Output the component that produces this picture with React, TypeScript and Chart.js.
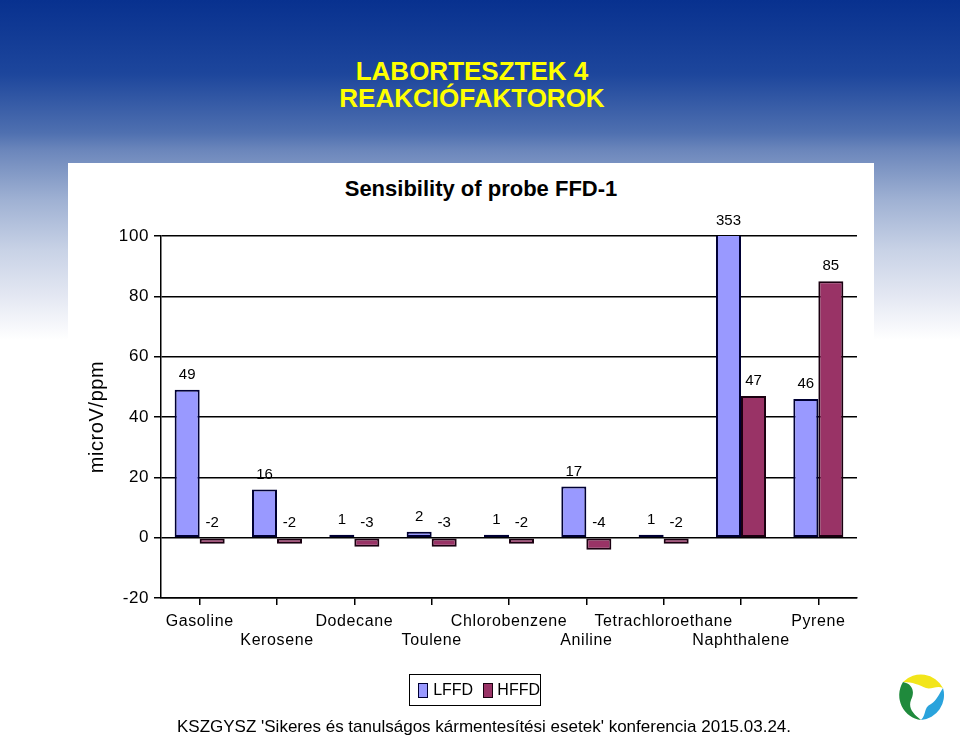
import React, { useEffect, useRef } from 'react';
import { Chart, registerables } from 'chart.js';

Chart.register(...registerables);

const categories = ['Gasoline', 'Kerosene', 'Dodecane', 'Toulene', 'Chlorobenzene', 'Aniline', 'Tetrachloroethane', 'Naphthalene', 'Pyrene'];
const lffdValues = [49, 16, 1, 2, 1, 17, 1, 353, 46];
const hffdValues = [-2, -2, -3, -3, -2, -4, -2, 47, 85];
const yMin = -20;
const yMax = 100;
const yStep = 20;

const FONT = '"Liberation Sans", Arial, sans-serif';

const spacing = {
  id: 'spacing',
  beforeDraw(chart: any) {
    chart.ctx.letterSpacing = '0.6px';
  },
  beforeDatasetsDraw(chart: any) {
    chart.ctx.letterSpacing = '0px';
  },
};

const valueLabels = {
  id: 'valueLabels',
  afterDatasetsDraw(chart: any) {
    const { ctx } = chart;
    const y = chart.scales.y;
    ctx.save();
    ctx.letterSpacing = '0px';
    ctx.font = '15px ' + FONT;
    ctx.fillStyle = '#000';
    ctx.textAlign = 'center';
    ctx.textBaseline = 'middle';
    chart.data.datasets.forEach((ds: any, di: number) => {
      const meta = chart.getDatasetMeta(di);
      meta.data.forEach((el: any, i: number) => {
        const v = ds.data[i];
        const base = v >= 0 ? y.getPixelForValue(Math.min(v, y.max)) : y.getPixelForValue(0);
        ctx.fillText(String(v), el.x, base - 15);
      });
    });
    ctx.restore();
  },
};

function Logo() {
  return (
    <svg width="54" height="54" viewBox="0 0 54 54" style={{ position: 'absolute', left: 893, top: 668 }}>
      <circle cx="27" cy="27" r="25" fill="#ffffff" />
      <path d="M10 14 A25 25 0 0 1 50 20 C44 17 38 22 33 20 C26 17 20 14 10 14 Z" fill="#f2e51a" />
      <path d="M10 14 C20 16 22 24 18 32 C15 40 20 46 28 52 A25 25 0 0 1 10 14 Z" fill="#1f8a3c" />
      <path d="M50 20 A25 25 0 0 1 28 52 C34 46 30 40 38 36 C44 32 46 26 50 20 Z" fill="#2aa3dc" />
    </svg>
  );
}

export default function App() {
  const canvasRef = useRef<HTMLCanvasElement | null>(null);

  useEffect(() => {
    const canvas = canvasRef.current;
    if (!canvas) return;
    const chart = new Chart(canvas, {
      type: 'bar',
      data: {
        labels: categories,
        datasets: [
          {
            label: 'LFFD',
            data: lffdValues,
            backgroundColor: '#9999ff',
            borderColor: '#000033',
            borderWidth: 2,
            borderSkipped: false,
            categoryPercentage: 0.647,
            barPercentage: 1,
          },
          {
            label: 'HFFD',
            data: hffdValues,
            backgroundColor: '#993366',
            borderColor: '#1a0010',
            borderWidth: 2,
            borderSkipped: false,
            categoryPercentage: 0.647,
            barPercentage: 1,
          },
        ],
      },
      options: {
        responsive: false,
        animation: false,
        devicePixelRatio: 1,
        layout: { padding: { left: 85, right: 103, top: 236, bottom: 79 } },
        plugins: {
          legend: { display: false },
          title: { display: false },
          tooltip: { enabled: false },
        },
        scales: {
          x: {
            offset: true,
            grid: {
              display: true,
              drawOnChartArea: false,
              drawTicks: true,
              tickLength: 7,
              offset: false,
              color: '#000',
              lineWidth: 1.5,
            },
            border: { display: true, color: '#000', width: 1.5 },
            ticks: {
              color: '#000',
              font: { family: FONT, size: 16 },
              padding: 7,
              autoSkip: false,
              maxRotation: 0,
              minRotation: 0,
              callback: (_v: any, i: number) => (i % 2 === 0 ? [categories[i]] : ['', categories[i]]),
            },
            afterFit: (scale: any) => {
              scale.height = 60;
            },
          },
          y: {
            min: yMin,
            max: yMax,
            grid: {
              color: '#000',
              lineWidth: 1.5,
              drawTicks: true,
              tickLength: 7,
            },
            border: { display: true, color: '#000', width: 1.5 },
            ticks: {
              stepSize: yStep,
              color: '#000',
              font: { family: FONT, size: 17 },
              padding: 5,
            },
            title: {
              display: true,
              text: 'microV/ppm',
              color: '#000',
              font: { family: FONT, size: 20 },
              padding: 0,
            },
            afterFit: (scale: any) => {
              scale.width = 76;
            },
          },
        },
      },
      plugins: [spacing, valueLabels],
    });
    return () => chart.destroy();
  }, []);

  return (
    <div
      style={{
        position: 'absolute',
        left: 0,
        top: 0,
        width: 960,
        height: 737,
        overflow: 'hidden',
        fontFamily: FONT,
        background:
          'linear-gradient(to bottom, #08318f 0px, #1d469c 74px, #4f70b0 133px, #6b86bb 150px, #9fb1d3 200px, #c8d2e6 250px, #e3e7f2 295px, #ffffff 340px)',
      }}
    >
      <div
        style={{
          position: 'absolute',
          left: 0,
          width: 944,
          top: 58,
          textAlign: 'center',
          color: '#ffff00',
          fontWeight: 'bold',
          fontSize: 26,
          lineHeight: '27px',
        }}
      >
        <div>LABORTESZTEK 4</div>
        <div>REAKCIÓFAKTOROK</div>
      </div>
      <div style={{ position: 'absolute', left: 68, top: 163, width: 806, height: 574, background: '#ffffff' }} />
      <div
        style={{
          position: 'absolute',
          left: 68,
          width: 826,
          top: 176,
          textAlign: 'center',
          fontWeight: 'bold',
          fontSize: 22,
          color: '#000',
        }}
      >
        Sensibility of probe FFD-1
      </div>
      <canvas ref={canvasRef} width={960} height={737} style={{ position: 'absolute', left: 0, top: 0, width: 960, height: 737 }} />
      <div
        style={{
          position: 'absolute',
          left: 409,
          top: 674,
          width: 132,
          height: 32,
          border: '1px solid #000',
          display: 'flex',
          alignItems: 'center',
          fontSize: 16,
          color: '#000',
          boxSizing: 'border-box',
        }}
      >
        <span style={{ display: 'inline-block', width: 10, height: 13, background: '#9999ff', border: '1.5px solid #000033', marginLeft: 8, marginRight: 5 }} />
        <span>LFFD</span>
        <span style={{ display: 'inline-block', width: 10, height: 13, background: '#993366', border: '1.5px solid #1a0010', marginLeft: 10, marginRight: 4 }} />
        <span>HFFD</span>
      </div>
      <Logo />
      <div style={{ position: 'absolute', left: 0, width: 968, top: 717, textAlign: 'center', fontSize: 17, color: '#000' }}>
        KSZGYSZ 'Sikeres és tanulságos kármentesítési esetek' konferencia 2015.03.24.
      </div>
    </div>
  );
}
